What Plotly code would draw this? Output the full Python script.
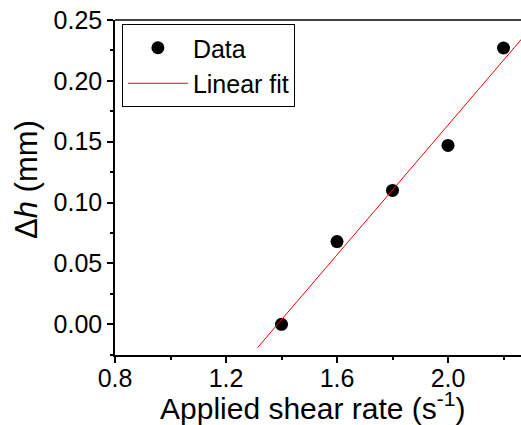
import numpy as np
import plotly.graph_objects as go

shear_rate = [1.4, 1.6, 1.8, 2.0, 2.2]
delta_h = [0.000, 0.068, 0.110, 0.147, 0.227]
fit_x_range = [1.315, 2.4]

slope, intercept = np.polyfit(shear_rate, delta_h, 1)
fit_x = np.array(fit_x_range)
fit_y = slope * fit_x + intercept

font = "Arial, Liberation Sans, sans-serif"

fig = go.Figure()
fig.add_trace(go.Scatter(x=shear_rate, y=delta_h, mode="markers", name="Data",
                         marker=dict(color="black", size=13)))
fig.add_trace(go.Scatter(x=fit_x, y=fit_y, mode="lines", name="Linear fit",
                         line=dict(color="red", width=1)))

axis_common = dict(showgrid=False, zeroline=False, showline=True, linecolor="black",
                   linewidth=1.5, ticks="outside", tickcolor="black", tickwidth=1.5,
                   ticklen=6, automargin=False,
                   tickfont=dict(family=font, size=25, color="black"))

fig.update_layout(
    width=521, height=425,
    margin=dict(l=115, r=0, t=20, b=70),
    plot_bgcolor="white", paper_bgcolor="white",
    xaxis=dict(range=[0.8, 2.263], tickvals=[0.8, 1.2, 1.6, 2.0],
               ticktext=["0.8", "1.2", "1.6", "2.0"], ticklabelstandoff=-6,
               minor=dict(dtick=0.2, tick0=0.8, ticks="outside", ticklen=3, tickcolor="black", tickwidth=1.5),
               **axis_common),
    yaxis=dict(range=[-0.0252, 0.25], tickvals=[0, 0.05, 0.10, 0.15, 0.20, 0.25],
               ticktext=["0.00", "0.05", "0.10", "0.15", "0.20", "0.25"],
               minor=dict(dtick=0.025, tick0=0, ticks="outside", ticklen=3, tickcolor="black", tickwidth=1.5),
               **axis_common),
    legend=dict(x=0.017, y=0.988, xanchor="left", yanchor="top",
                bordercolor="black", borderwidth=1, bgcolor="white",
                font=dict(family=font, size=25, color="black"),
                itemwidth=60, tracegroupgap=0),
    showlegend=True,
    shapes=[dict(type="line", xref="paper", yref="paper", x0=0, x1=1, y0=1, y1=1,
                 line=dict(color="black", width=1.5))],
    annotations=[
        dict(text="Applied shear rate (s<sup>-1</sup>)", xref="paper", yref="paper",
             x=(313 - 115) / 406, y=-(406 - 355) / 335, xanchor="center", yanchor="middle",
             showarrow=False, font=dict(family=font, size=30, color="black")),
        dict(text="Δ<i>h</i> (mm)", xref="paper", yref="paper",
             x=-(115 - 26) / 406, y=(355 - 180) / 335, xanchor="center", yanchor="middle",
             textangle=-90, showarrow=False, font=dict(family=font, size=31, color="black")),
    ],
)

fig.write_html("out.html", config={"displayModeBar": False},
               post_script="document.body.style.margin='0';document.body.style.overflow='hidden';")
